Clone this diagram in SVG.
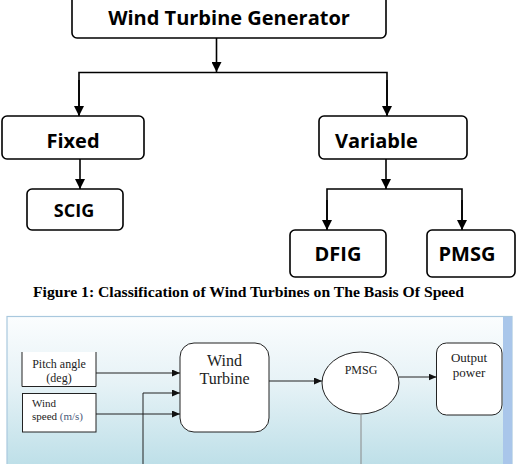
<svg xmlns="http://www.w3.org/2000/svg" width="516" height="464" viewBox="0 0 516 464">
<defs>
<marker id="ah" viewBox="0 0 10 10" refX="10" refY="5" markerWidth="10" markerHeight="10" markerUnits="userSpaceOnUse" orient="auto"><path d="M0,0 L10,5 L0,10 z" fill="#000"/></marker>
<marker id="as" viewBox="0 0 10 10" refX="10" refY="5" markerWidth="8" markerHeight="7" markerUnits="userSpaceOnUse" orient="auto" preserveAspectRatio="none"><path d="M0,0 L10,5 L0,10 z" fill="#111"/></marker>
<linearGradient id="bg" x1="0" y1="0" x2="0" y2="1">
<stop offset="0" stop-color="#fbfdfe"/>
<stop offset="0.45" stop-color="#e6f2f6"/>
<stop offset="1" stop-color="#bddfe8"/>
</linearGradient>
</defs>
<style>
.box{fill:#fff;stroke:#000;stroke-width:1.6}
.lbl{font-family:"Open Sans","Noto Sans",sans-serif;font-weight:700;fill:#000}
.ln{fill:none;stroke:#000;stroke-width:1.6}
.ser{font-family:"Liberation Serif","DejaVu Serif",serif;fill:#222}
.tl{fill:none;stroke:#222;stroke-width:1}
.nb{fill:#fff;stroke:#222;stroke-width:1}
</style>
<rect width="516" height="464" fill="#fff"/>
<g id="top-diagram">
<g id="node-wtg"><rect class="box" x="72" y="-8" width="314" height="46" rx="5"/><text class="lbl" x="229" y="25" font-size="20" text-anchor="middle">Wind Turbine Generator</text></g>
<g id="node-fixed"><rect class="box" x="2" y="116" width="142" height="43" rx="5"/><text class="lbl" x="73" y="148" font-size="20" text-anchor="middle">Fixed</text></g>
<g id="node-variable"><rect class="box" x="319" y="116" width="148" height="43" rx="5"/><text class="lbl" x="335" y="148" font-size="20">Variable</text></g>
<g id="node-scig"><rect class="box" x="27" y="189" width="96" height="41" rx="5"/><text class="lbl" x="74" y="217" font-size="18" text-anchor="middle">SCIG</text></g>
<g id="node-dfig"><rect class="box" x="290" y="230" width="96" height="47" rx="5"/><text class="lbl" x="338" y="261" font-size="20" text-anchor="middle">DFIG</text></g>
<g id="node-pmsg"><rect class="box" x="427" y="230" width="88" height="47" rx="5"/><text class="lbl" x="467" y="261" font-size="20" text-anchor="middle">PMSG</text></g>
<g id="connectors-top">
<line class="ln" x1="216.5" y1="38" x2="216.5" y2="72" marker-end="url(#ah)"/>
<polyline class="ln" points="79,115 79,72.5 387,72.5 387,115"/>
<line class="ln" x1="79" y1="80" x2="79" y2="116" marker-end="url(#ah)"/>
<line class="ln" x1="387" y1="80" x2="387" y2="116" marker-end="url(#ah)"/>
<line class="ln" x1="80" y1="159" x2="80" y2="189" marker-end="url(#ah)"/>
<line class="ln" x1="386" y1="159" x2="386" y2="189" marker-end="url(#ah)"/>
<polyline class="ln" points="327,229 327,189 462,189 462,229"/>
<line class="ln" x1="327" y1="200" x2="327" y2="230" marker-end="url(#ah)"/>
<line class="ln" x1="462" y1="200" x2="462" y2="230" marker-end="url(#ah)"/>
</g>
</g>
<text x="248.5" y="297" font-family="Liberation Serif,serif" font-weight="700" font-size="14" text-anchor="middle" textLength="431" lengthAdjust="spacingAndGlyphs" fill="#000">Figure 1: Classification of Wind Turbines on The Basis Of Speed</text>
<g id="bottom-diagram">
<rect x="7" y="316.5" width="505" height="150" fill="url(#bg)" stroke="#a9c8de" stroke-width="1.2"/>
<rect x="503" y="317" width="9" height="147" fill="#a9c6ea"/>
<g id="node-pitch"><rect x="22" y="352" width="74" height="34.5" fill="#fff"/><path class="tl" d="M22,352 V386.5 H96 V352"/><text class="ser" x="59" y="368" font-size="12" text-anchor="middle">Pitch angle</text><text class="ser" x="59" y="382" font-size="12" text-anchor="middle">(deg)</text></g>
<g id="node-windspeed"><rect class="nb" x="22.5" y="393.5" width="73.5" height="38.5"/><text class="ser" x="32" y="407" font-size="11">Wind</text><text class="ser" x="32" y="420" font-size="11">speed <tspan fill="#4a5a7a">(m/s)</tspan></text></g>
<g id="node-turbine"><rect class="nb" x="180" y="343" width="89" height="89" rx="14"/><text class="ser" x="224.5" y="366" font-size="16" text-anchor="middle">Wind</text><text class="ser" x="224.5" y="384" font-size="16" text-anchor="middle">Turbine</text></g>
<g id="node-pmsg2"><ellipse class="nb" cx="360.5" cy="383" rx="38.5" ry="31"/><text class="ser" x="361" y="374" font-size="12" text-anchor="middle">PMSG</text></g>
<g id="node-output"><rect class="nb" x="436.5" y="343" width="65.5" height="72" rx="10"/><text class="ser" x="469" y="362" font-size="13" text-anchor="middle">Output</text><text class="ser" x="469" y="377" font-size="13" text-anchor="middle">power</text></g>
<g id="connectors-bottom">
<line class="tl" x1="96" y1="373" x2="180" y2="373" marker-end="url(#as)"/>
<polyline class="tl" points="143,464 143,393 180,393" marker-end="url(#as)"/>
<line class="tl" x1="96" y1="414" x2="180" y2="414" marker-end="url(#as)"/>
<line class="tl" x1="269" y1="381" x2="322" y2="381" marker-end="url(#as)"/>
<line class="tl" x1="399" y1="377" x2="436.5" y2="377" marker-end="url(#as)"/>
<line x1="361" y1="414" x2="361" y2="464" stroke="#888" stroke-width="1"/>
</g>
</g>
</svg>
